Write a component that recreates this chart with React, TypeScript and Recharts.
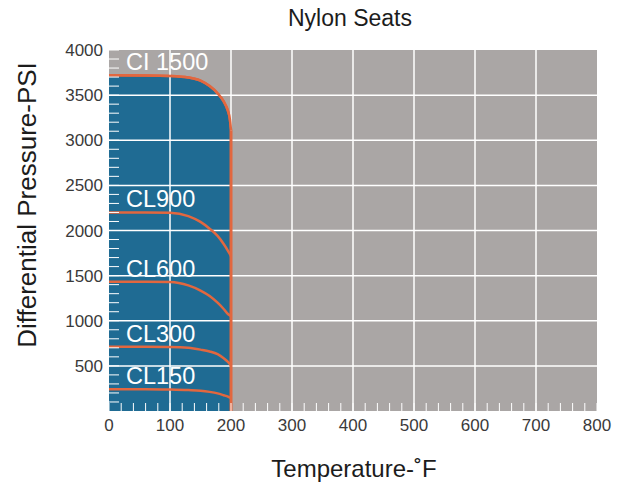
import React from 'react';
import {
  ComposedChart,
  Area,
  Line,
  XAxis,
  YAxis,
  CartesianGrid,
  ReferenceLine,
  ReferenceDot
} from 'recharts';

// temperature samples (°F) shared by every pressure class curve
const tempPoints = [0, 60, 100, 130, 150, 165, 178, 188, 195, 198, 200];

// differential pressure (psi) per class
const cl1500 = [3720, 3718, 3712, 3695, 3660, 3600, 3520, 3430, 3325, 3240, 3110];
const cl900 = [2200, 2200, 2197, 2160, 2095, 2020, 1940, 1850, 1775, 1740, 1715];
const cl600 = [1433, 1433, 1430, 1392, 1335, 1275, 1200, 1130, 1075, 1060, 1050];
const cl300 = [712, 712, 710, 700, 680, 660, 630, 585, 545, 522, 505];
const cl150 = [242, 242, 238, 232, 225, 212, 195, 175, 160, 150, 143];

const classNames = ['CI 1500', 'CL900', 'CL600', 'CL300', 'CL150'];
const classSeries = [cl1500, cl900, cl600, cl300, cl150];

// axis ticks
const tempTicks = [0, 100, 200, 300, 400, 500, 600, 700, 800];
const pressureTicks = [500, 1000, 1500, 2000, 2500, 3000, 3500, 4000];
const tempGridLines = [100, 200, 300, 400, 500, 600, 700];
const pressureGridLines = [500, 1000, 1500, 2000, 2500, 3000, 3500];
const tempMinorTicks = [
  20, 40, 60, 80, 120, 140, 160, 180, 220, 240, 260, 280, 320, 340, 360, 380,
  420, 440, 460, 480, 520, 540, 560, 580, 620, 640, 660, 680, 720, 740, 760, 780
];
const pressureMinorTicks = [
  100, 200, 300, 400, 600, 700, 800, 900, 1100, 1200, 1300, 1400, 1600, 1700, 1800, 1900,
  2100, 2200, 2300, 2400, 2600, 2700, 2800, 2900, 3100, 3200, 3300, 3400, 3600, 3700, 3800, 3900
];

const keys = ['cl1500', 'cl900', 'cl600', 'cl300', 'cl150'];
const rows = tempPoints.map((t, i) => {
  const row: any = { t };
  keys.forEach((k, j) => {
    row[k] = classSeries[j][i];
  });
  return row;
});

const allTempTicks = [...tempTicks, ...tempMinorTicks].sort((a, b) => a - b);
const allPressureTicks = [...pressureTicks, ...pressureMinorTicks].sort((a, b) => a - b);

const GREY = '#aaa6a5';
const BLUE = '#1f6b93';
const ORANGE = '#e2673f';
const TICK_COLOR = '#3a3a3a';
const FONT = 'Arial, "Liberation Sans", sans-serif';

// only the major ticks carry a label, minor ones just get the inner white tick line
const TempTick = (props: any) => {
  const { x, y, payload } = props;
  if (!tempTicks.includes(payload.value)) return <g />;
  return (
    <text x={x} y={y} dy="0.71em" textAnchor="middle" fill={TICK_COLOR} fontSize={17} fontFamily={FONT}>
      {payload.value}
    </text>
  );
};

const PressureTick = (props: any) => {
  const { x, y, payload } = props;
  if (!pressureTicks.includes(payload.value)) return <g />;
  return (
    <text x={x} y={y} dy="0.355em" textAnchor="end" fill={TICK_COLOR} fontSize={17} fontFamily={FONT}>
      {payload.value}
    </text>
  );
};

export default function App() {
  return (
    <div style={{ position: 'absolute', left: 0, top: 0, width: 631, height: 503, background: '#fff', fontFamily: FONT }}>
      <div style={{ position: 'absolute', left: 350, top: 18, transform: 'translate(-50%, -50%)', fontSize: 23, lineHeight: 1, color: '#1c1c1c', whiteSpace: 'nowrap' }}>
        Nylon Seats
      </div>
      <div style={{ position: 'absolute', left: 354, top: 469, transform: 'translate(-50%, -50%)', fontSize: 24, lineHeight: 1, color: '#1c1c1c', whiteSpace: 'nowrap' }}>
        Temperature-˚F
      </div>
      <div style={{ position: 'absolute', left: 27, top: 205, transform: 'translate(-50%, -50%) rotate(-90deg)', fontSize: 26, lineHeight: 1, color: '#1c1c1c', whiteSpace: 'nowrap' }}>
        Differential Pressure-PSI
      </div>

      <ComposedChart width={631} height={503} data={rows} margin={{ top: 50, right: 34, bottom: 62, left: 49 }}>
        <CartesianGrid stroke="none" fill={GREY} fillOpacity={1} />
        <XAxis
          dataKey="t"
          type="number"
          domain={[0, 800]}
          ticks={allTempTicks}
          interval={0}
          height={30}
          axisLine={false}
          tickLine={{ stroke: '#fff', strokeWidth: 1 }}
          tickSize={-8}
          tickMargin={15.5}
          tick={TempTick}
        />
        <YAxis
          type="number"
          domain={[0, 4000]}
          ticks={allPressureTicks}
          interval={0}
          width={60}
          axisLine={false}
          tickLine={{ stroke: '#fff', strokeWidth: 1 }}
          tickSize={-10}
          tickMargin={16}
          tick={PressureTick}
        />

        <Area
          type="monotone"
          dataKey="cl1500"
          fill={BLUE}
          fillOpacity={1}
          stroke={ORANGE}
          strokeWidth={2.5}
          isAnimationActive={false}
        />

        {tempGridLines.map((v) => (
          <ReferenceLine key={`gx${v}`} x={v} stroke="#fff" strokeWidth={1.5} />
        ))}
        {pressureGridLines.map((v) => (
          <ReferenceLine key={`gy${v}`} y={v} stroke="#fff" strokeWidth={1.5} />
        ))}

        {keys.slice(1).map((k) => (
          <Line
            key={k}
            type="monotone"
            dataKey={k}
            stroke={ORANGE}
            strokeWidth={2.5}
            dot={false}
            isAnimationActive={false}
          />
        ))}
        <Line
          type="monotone"
          dataKey="cl1500"
          stroke={ORANGE}
          strokeWidth={2.5}
          dot={false}
          isAnimationActive={false}
        />

        <ReferenceLine
          segment={[
            { x: tempPoints[tempPoints.length - 1], y: 0 },
            { x: tempPoints[tempPoints.length - 1], y: cl1500[cl1500.length - 1] }
          ]}
          stroke={ORANGE}
          strokeWidth={3}
        />

        {classNames.map((name, j) => (
          <ReferenceDot
            key={name}
            x={tempPoints[0]}
            y={classSeries[j][0]}
            r={1}
            fill="none"
            stroke="none"
            label={{
              content: (p: any) => (
                <text
                  x={p.viewBox.x + 18}
                  y={p.viewBox.y - 12}
                  fill="#fff"
                  fontSize={23.5}
                  fontFamily={FONT}
                  dominantBaseline="central"
                >
                  {name}
                </text>
              )
            }}
          />
        ))}
      </ComposedChart>
    </div>
  );
}
